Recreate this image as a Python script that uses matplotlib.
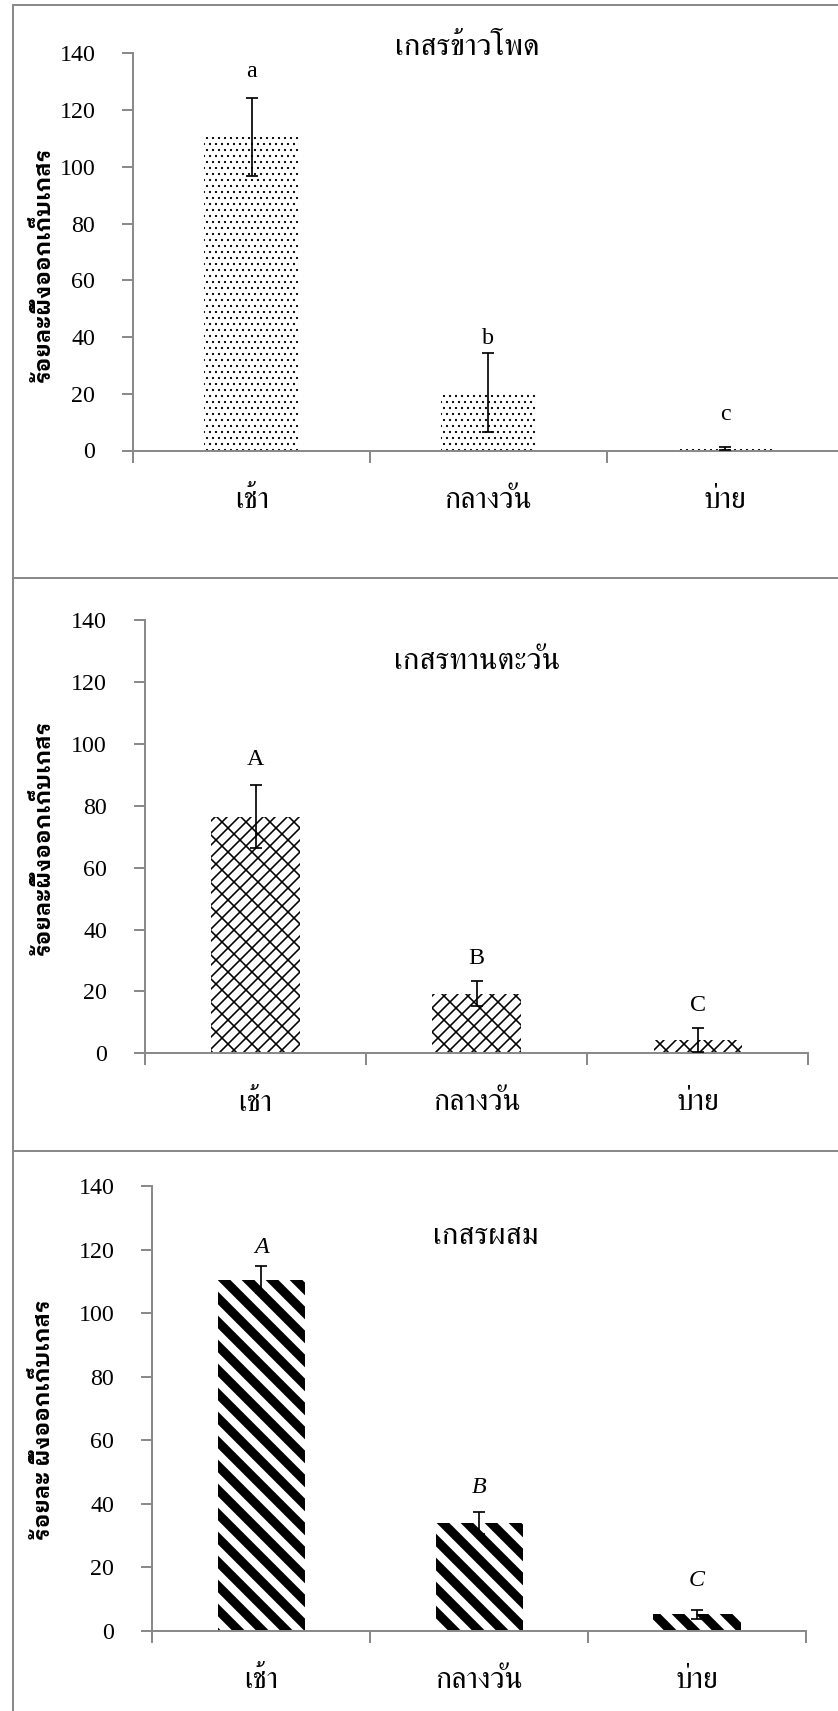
import matplotlib
matplotlib.use("Agg")
import matplotlib.pyplot as plt
from matplotlib.patches import Rectangle

# --- data ---
periods = ["เช้า", "กลางวัน", "บ่าย"]

titles = ["เกสรข้าวโพด", "เกสรทานตะวัน", "เกสรผสม"]
ylabels = ["ร้อยละผึ้งออกเก็บเกสร", "ร้อยละผึ้งออกเก็บเกสร", "ร้อยละ ผึ้งออกเก็บเกสร"]

corn_mean = [110.5, 20.5, 0.7]
corn_err = [13.8, 13.9, 0.6]
corn_letters = ["a", "b", "c"]

sunflower_mean = [76.5, 19.3, 4.3]
sunflower_err = [10.3, 4.0, 3.8]
sunflower_letters = ["A", "B", "C"]

mixed_mean = [110.5, 34.0, 5.3]
mixed_err = [4.2, 3.4, 1.4]
mixed_letters = ["A", "B", "C"]

yticks = [0, 20, 40, 60, 80, 100, 120, 140]

# 72 dpi so that 1 pt == 1 px (also sets the hatch tile to 72 px)
W, H = 838, 1711
DPI = 72
GRAY = "#8a8a8a"
NUM_FONT = ["Liberation Serif", "DejaVu Serif"]
THAI_FONT = ["Liberation Serif", "Kinnari", "FreeSerif", "DejaVu Sans"]
THAI_BOLD = ["IBM Plex Sans Thai Looped", "FreeSerif", "DejaVu Sans"]

plt.rcParams["font.family"] = NUM_FONT

fig = plt.figure(figsize=(W / DPI, H / DPI), dpi=DPI)


def px_axes(left, right, y0, ytop):
    return fig.add_axes([left / W, 1 - y0 / H, (right - left) / W, (y0 - ytop) / H])


# panel frames (left edge + separators)
for top, bottom in [(5, 578), (578, 1151), (1151, 1730)]:
    fig.add_artist(Rectangle((13 / W, 1 - bottom / H), 1.2, (bottom - top) / H,
                             transform=fig.transFigure, fill=False,
                             edgecolor=GRAY, linewidth=2))

panels = [
    dict(box=(133.3, 843.4, 450.5, 53.3), mean=corn_mean, err=corn_err,
         letters=corn_letters, hatch="..", hlw=1.0,
         ly=[133.7, 39.6, 12.7], tpos=(0.47, 1.014), italic=False, ylab_y=264),
    dict(box=(145.0, 808.3, 1053.3, 620.0), mean=sunflower_mean, err=sunflower_err,
         letters=sunflower_letters, hatch="//\\", hlw=1.6,
         ly=[95.0, 30.6, 15.4], tpos=(0.50, 0.904), italic=False, ylab_y=837),
    dict(box=(152.3, 806.0, 1631.0, 1186.0), mean=mixed_mean, err=mixed_err,
         letters=mixed_letters, hatch="\\", hlw=9.0,
         ly=[120.8, 45.3, 16.0], tpos=(0.51, 0.887), italic=True, ylab_y=1420),
]

x = [0.5, 1.5, 2.5]

for i, p in enumerate(panels):
    ax = px_axes(*p["box"])
    plt.rcParams["hatch.linewidth"] = p["hlw"]
    bars = ax.bar(x, p["mean"], width=0.4, color="white", edgecolor="black",
                  linewidth=0, hatch=p["hatch"], zorder=2)
    for b in bars:
        if hasattr(b, "set_hatch_linewidth"):
            b.set_hatch_linewidth(p["hlw"])
    ax.errorbar(x, p["mean"], yerr=p["err"], fmt="none", ecolor="black",
                elinewidth=1.7, capsize=6, capthick=1.7, zorder=3)

    ax.set_xlim(0, 3)
    ax.set_ylim(0, 140)
    ax.set_yticks(yticks)
    ax.set_yticklabels([str(t) for t in yticks], fontsize=24)
    ax.set_xticks([0, 1, 2, 3])
    ax.set_xticklabels([])
    ax.tick_params(axis="y", direction="out", length=11, width=2, color=GRAY, pad=27)
    ax.tick_params(axis="x", direction="out", length=12, width=2, color=GRAY)
    for s in ["top", "right"]:
        ax.spines[s].set_visible(False)
    for s in ["left", "bottom"]:
        ax.spines[s].set_color(GRAY)
        ax.spines[s].set_linewidth(2)
    ax.patch.set_alpha(0)

    for xi, name in zip(x, periods):
        ax.annotate(name, xy=(xi, 0), xycoords=("data", "axes fraction"),
                    xytext=(0, -50), textcoords="offset points",
                    ha="center", va="center", fontsize=30, family=THAI_FONT)

    for xi, yi, lt in zip(x, p["ly"], p["letters"]):
        ax.text(xi, yi, lt, ha="center", va="center", fontsize=24,
                style="italic" if p["italic"] else "normal")

    ax.text(p["tpos"][0], p["tpos"][1], titles[i], transform=ax.transAxes,
            ha="center", va="center", fontsize=31, family=THAI_FONT)

    fig.text(42 / W, 1 - p["ylab_y"] / H, ylabels[i], rotation=90,
             ha="center", va="center", fontsize=22.5, fontweight="bold",
             family=THAI_BOLD)

fig.savefig("out.png", dpi=DPI)
